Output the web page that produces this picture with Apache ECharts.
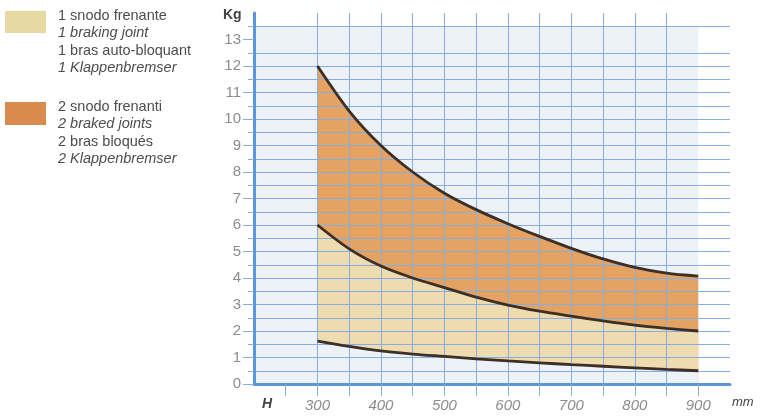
<!DOCTYPE html>
<html>
<head>
<meta charset="utf-8">
<script src="https://cdn.jsdelivr.net/npm/echarts@6/dist/echarts.min.js"></script>
<style>html,body{margin:0;padding:0;background:#fff}#c{width:761px;height:418px}</style>
</head>
<body>
<div id="c"></div>
<script>
const xValues = [300, 350, 400, 450, 500, 550, 600, 650, 700, 750, 800, 850, 900];
const upper   = [12.0, 10.3, 9.0, 8.0, 7.2, 6.58, 6.05, 5.57, 5.12, 4.72, 4.4, 4.18, 4.07];
const middle  = [6.0, 5.1, 4.45, 4.0, 3.64, 3.28, 2.98, 2.75, 2.56, 2.38, 2.22, 2.1, 2.0];
const lower   = [1.62, 1.42, 1.25, 1.13, 1.04, 0.95, 0.87, 0.8, 0.73, 0.67, 0.61, 0.55, 0.5];
const xTickLabels = [300, 400, 500, 600, 700, 800, 900];
const yTickLabels = [0,1,2,3,4,5,6,7,8,9,10,11,12,13];
const legendLines1 = ['1 snodo frenante', '1 braking joint', '1 bras auto-bloquant', '1 Klappenbremser'];
const legendLines2 = ['2 snodo frenanti', '2 braked joints', '2 bras bloqués', '2 Klappenbremser'];

const BG = '#edf1f8', GRID = '#86aee0', AXIS = '#5d95d8';
const ORANGE = '#e4a263', BEIGE = '#eedcb0', LINE = '#3b2f26';
const pts = arr => xValues.map((x, i) => [x, arr[i]]);

const chart = echarts.init(document.getElementById('c'), null, {renderer: 'canvas'});
const font = 'Liberation Sans, Arial, sans-serif';

function legendTexts(lines, top) {
  return lines.map((t, i) => ({
    type: 'text', left: 58, top: top + i * 17.5,
    style: {text: t, fill: '#4d4d4d', font: (i % 2 ? 'italic ' : '') + '14.5px ' + font}
  }));
}

const areaSeries = (data, color, z) => ({
  type: 'line', data: pts(data), smooth: 0.3, symbol: 'none', z: z,
  lineStyle: {width: 0}, areaStyle: {color: color, opacity: 1, origin: 'start'}, silent: true
});
const lineSeries = (data) => ({
  type: 'line', data: pts(data), smooth: 0.3, symbol: 'none', z: 5,
  lineStyle: {width: 2.8, color: LINE}, silent: true
});

chart.setOption({
  animation: false,
  grid: {left: 254, right: 31, top: 13, bottom: 34},
  xAxis: {
    type: 'value', min: 200, max: 950, interval: 50, z: 3,
    axisLine: {lineStyle: {color: AXIS, width: 3}},
    axisTick: {show: true, length: 12, lineStyle: {color: GRID, width: 1},
      customValues: [250,300,350,400,450,500,550,600,650,700,750,800,850,900]},
    axisLabel: {color: '#8c8c8c', fontSize: 15, fontStyle: 'italic', fontFamily: 'Liberation Sans', margin: 14,
      showMinLabel: true, showMaxLabel: true,
      formatter: v => xTickLabels.includes(v) ? String(v) : ''},
    splitLine: {show: true, showMinLine: false, showMaxLine: false, lineStyle: {color: GRID, width: 1}}
  },
  yAxis: {
    type: 'value', min: 0, max: 14, interval: 1, z: 3,
    axisLine: {show: true, lineStyle: {color: AXIS, width: 3}},
    axisTick: {show: true, length: 11, lineStyle: {color: GRID, width: 1}, customValues: yTickLabels},
    minorTick: {show: true, splitNumber: 2, length: 6, lineStyle: {color: GRID, width: 1}},
    axisLabel: {color: '#8c8c8c', fontSize: 15, fontFamily: font, margin: 13,
      formatter: v => yTickLabels.includes(v) ? String(v) : ''},
    splitLine: {show: true, showMinLine: false, showMaxLine: false, lineStyle: {color: GRID, width: 1}},
    minorSplitLine: {show: true, lineStyle: {color: GRID, width: 1}}
  },
  series: [
    {type: 'line', data: [], z: 0, silent: true,
     markArea: {silent: true, itemStyle: {color: BG}, data: [[{coord: [200, 0]}, {coord: [900, 13.5]}]]}},
    areaSeries(upper, ORANGE, 1),
    areaSeries(middle, BEIGE, 1),
    areaSeries(lower, BG, 1),
    lineSeries(upper),
    lineSeries(middle),
    lineSeries(lower)
  ],
  graphic: [
    {type: 'rect', shape: {x: 5, y: 11, width: 41, height: 22}, style: {fill: '#e7d9a2'}},
    {type: 'rect', shape: {x: 5, y: 102, width: 41, height: 23}, style: {fill: '#d98b4e'}},
    ...legendTexts(legendLines1, 8),
    ...legendTexts(legendLines2, 99),
    {type: 'text', left: 223, top: 8, style: {text: 'Kg', fill: '#444', font: 'bold 14px ' + font}},
    {type: 'text', left: 262, top: 397, style: {text: 'H', fill: '#444', font: 'italic bold 14px ' + font}},
    {type: 'text', left: 732, top: 396, style: {text: 'mm', fill: '#444', font: 'italic 13px ' + font}}
  ]
});
</script>
</body>
</html>
